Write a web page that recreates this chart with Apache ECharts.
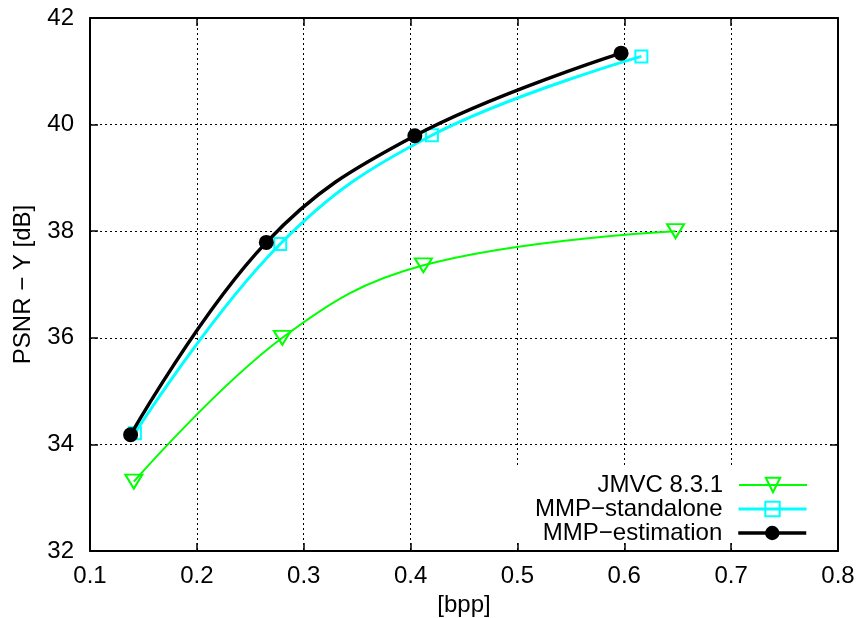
<!DOCTYPE html>
<html>
<head>
<meta charset="utf-8">
<script src="https://cdn.jsdelivr.net/npm/echarts@6/dist/echarts.min.js"></script>
<style>html,body{margin:0;padding:0;background:#fff}#c{width:863px;height:618px}</style>
</head>
<body>
<div id="c"></div>
<script>
var seriesNames = ['JMVC 8.3.1', 'MMP\u2212standalone', 'MMP\u2212estimation'];
var jmvc = [[0.141, 33.30], [0.280, 36.00], [0.412, 37.36], [0.648, 38.00]];
var mmpStandalone = [[0.142, 34.21], [0.278, 37.76], [0.420, 39.80], [0.616, 41.28]];
var mmpEstimation = [[0.138, 34.18], [0.265, 37.79], [0.404, 39.79], [0.597, 41.34]];
var xTicks = [0.1, 0.2, 0.3, 0.4, 0.5, 0.6, 0.7, 0.8];
var yTicks = [32, 34, 36, 38, 40, 42];

var FONT = 'Liberation Sans';
var FS = 24;
var colors = ['#00ff00', '#00ffff', '#000000'];
var widths = [2, 3, 3.5];
var chart = echarts.init(document.getElementById('c'), null, {renderer: 'canvas'});

function mainAxisX() {
  return {
    type: 'value', min: xTicks[0], max: xTicks[xTicks.length - 1], interval: 0.1,
    position: 'bottom',
    name: '[bpp]', nameLocation: 'middle', nameGap: 40,
    nameTextStyle: {fontFamily: FONT, fontSize: FS, color: '#000'},
    axisLine: {show: true, lineStyle: {color: '#000', width: 2}},
    axisTick: {show: true, inside: true, length: 8, lineStyle: {color: '#000', width: 1.5}},
    axisLabel: {fontFamily: FONT, fontSize: FS, color: '#000', margin: 13,
      formatter: function (v) { return (Math.round(v * 10) / 10).toString(); }},
    splitLine: {show: true, lineStyle: {color: '#000', width: 1, type: [2, 3]}}
  };
}
function mainAxisY() {
  return {
    type: 'value', min: yTicks[0], max: yTicks[yTicks.length - 1], interval: 2,
    position: 'left',
    name: 'PSNR \u2212 Y [dB]', nameLocation: 'middle', nameGap: 55,
    nameTextStyle: {fontFamily: FONT, fontSize: FS, color: '#000'},
    axisLine: {show: true, lineStyle: {color: '#000', width: 2}},
    axisTick: {show: true, inside: true, length: 8, lineStyle: {color: '#000', width: 1.5}},
    axisLabel: {fontFamily: FONT, fontSize: FS, color: '#000', margin: 16},
    splitLine: {show: true, lineStyle: {color: '#000', width: 1, type: [2, 3]}}
  };
}

var legendTops = [473, 497, 521];
var legends = seriesNames.map(function (n, i) {
  return {
    data: [n], right: 55, top: legendTops[i], align: 'right', orient: 'vertical',
    padding: 0, itemWidth: 68, itemHeight: 18, itemGap: 0,
    lineStyle: {width: widths[i], color: colors[i]},
    textStyle: {fontFamily: FONT, fontSize: FS, lineHeight: 18, color: '#000', padding: [0, 11, 0, 0]},
    selectedMode: false
  };
});

chart.setOption({
  animation: false,
  backgroundColor: '#fff',
  grid: {left: 90, right: 25, top: 18, bottom: 67, containLabel: false, outerBoundsMode: 'none'},
  xAxis: [mainAxisX(), {
    type: 'value', min: xTicks[0], max: xTicks[xTicks.length - 1], interval: 0.1, position: 'top',
    axisLine: {show: true, lineStyle: {color: '#000', width: 2}},
    axisTick: {show: true, inside: true, length: 8, lineStyle: {color: '#000', width: 1.5}},
    axisLabel: {show: false}, splitLine: {show: false}
  }],
  yAxis: [mainAxisY(), {
    type: 'value', min: yTicks[0], max: yTicks[yTicks.length - 1], interval: 2, position: 'right',
    axisLine: {show: true, lineStyle: {color: '#000', width: 2}},
    axisTick: {show: true, inside: true, length: 8, lineStyle: {color: '#000', width: 1.5}},
    axisLabel: {show: false}, splitLine: {show: false}
  }],
  legend: legends,
  graphic: [{
    type: 'rect', z: 1, silent: true,
    shape: {x: 515, y: 467, width: 321, height: 76},
    style: {fill: '#fff'}
  }],
  series: [
    {
      name: seriesNames[0], type: 'line', data: jmvc, smooth: 0.4,
      symbol: 'triangle', symbolRotate: 180, symbolSize: [17, 14],
      lineStyle: {color: colors[0], width: widths[0]},
      itemStyle: {color: 'rgba(255,255,255,0)', borderColor: colors[0], borderWidth: 2},
      z: 3
    },
    {
      name: seriesNames[1], type: 'line', data: mmpStandalone, smooth: 0.4,
      symbol: 'rect', symbolSize: 12,
      lineStyle: {color: colors[1], width: widths[1]},
      itemStyle: {color: 'rgba(255,255,255,0)', borderColor: colors[1], borderWidth: 2},
      z: 4
    },
    {
      name: seriesNames[2], type: 'line', data: mmpEstimation, smooth: 0.4,
      symbol: 'circle', symbolSize: 15,
      lineStyle: {color: colors[2], width: widths[2]},
      itemStyle: {color: colors[2]},
      z: 5
    }
  ]
});
</script>
</body>
</html>
